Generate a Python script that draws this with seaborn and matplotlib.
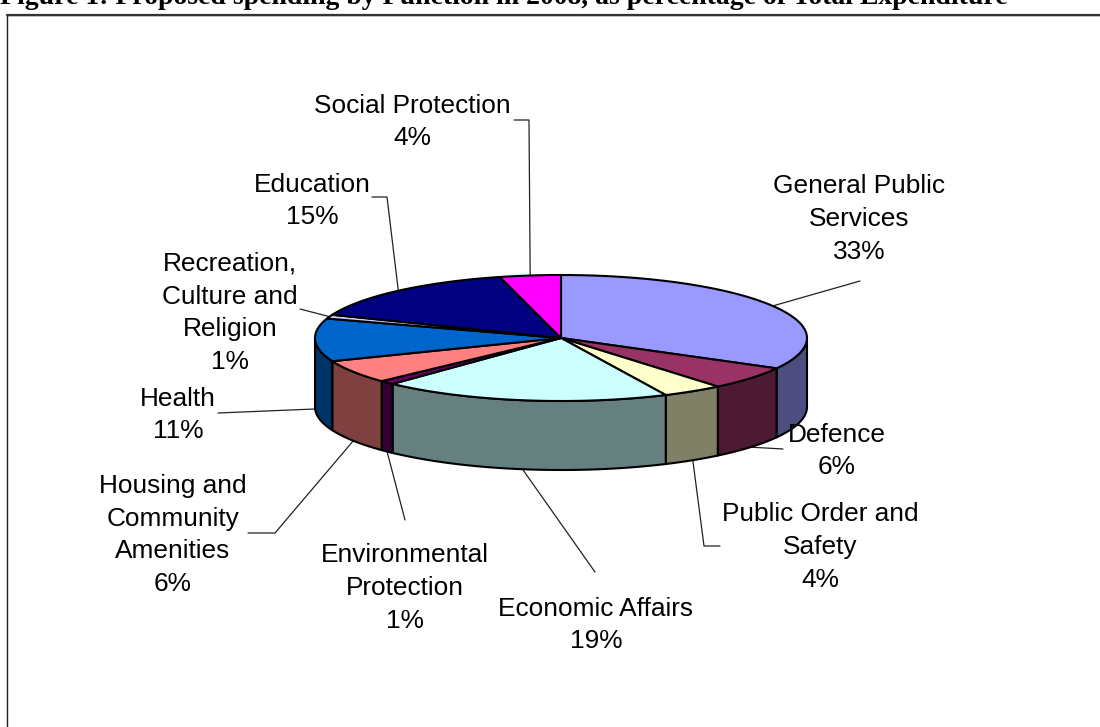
import numpy as np
import matplotlib
matplotlib.use("Agg")
import matplotlib.pyplot as plt
from matplotlib.patches import Polygon, Rectangle
import seaborn as sns

# Budget shares, clockwise from twelve o'clock
functions = ["General Public\nServices", "Defence", "Public Order and\nSafety",
             "Economic Affairs", "Environmental\nProtection",
             "Housing and\nCommunity\nAmenities", "Health",
             "Recreation,\nCulture and\nReligion", "Education", "Social Protection"]
shares = [33, 6, 4, 19, 1, 6, 11, 1, 15, 4]
top_colors = ["#9999FF", "#993366", "#FFFFCC", "#CCFFFF", "#660066",
              "#FF8080", "#0066CC", "#CCCCFF", "#000080", "#FF00FF"]

# Label centres and the elbow of each leader line, in canvas pixels
label_centers = [(859, 219), (837, 451), (820, 547), (596, 625), (405, 588),
                 (173, 535), (178, 415), (230, 313), (312, 201), (412, 122)]
leader_elbows = [[(860, 281)], [(783, 449)], [(704, 546), (720, 546)], [(595, 572)],
                 [(405, 520)], [(275, 533), (248, 533)], [(218, 413)], [(300, 309)],
                 [(387, 197), (372, 197)], [(529, 120), (514, 120)]]

# Pie geometry in canvas pixels
CX, CY, RX, RY, DEPTH = 561, 338, 246, 63, 69

sns.set_theme(style="white")
plt.rcParams["font.family"] = ["Liberation Sans", "DejaVu Sans"]
palette = sns.color_palette(top_colors)


def rim(theta_deg, drop=0.0):
    t = np.radians(np.asarray(theta_deg, dtype=float))
    return np.column_stack([CX + RX * np.sin(t), CY - RY * np.cos(t) + drop])


fig = plt.figure(figsize=(11, 7.27), dpi=100, facecolor="white")
ax = fig.add_axes([0, 0, 1, 1])
ax.set_xlim(0, 1100)
ax.set_ylim(727, 0)
ax.axis("off")

# Frame that runs off the right and bottom edges of the page
ax.add_patch(Rectangle((7, 15), 1200, 800, fill=False, edgecolor="#222222", lw=1.0))
ax.plot([7, 1100], [15, 15], color="#333333", lw=1.6, zorder=1)

ax.text(0, 4, "Figure 1: Proposed spending by Function in 2008, as percentage of Total Expenditure",
        family="Liberation Serif", weight="bold", fontsize=20, color="black",
        ha="left", va="baseline")

edges = np.cumsum([0] + shares) / sum(shares) * 360.0
EDGE = dict(edgecolor="black", linewidth=1.5, joinstyle="round")

# Only the front half of the wall (90 to 270 degrees) is visible
for i, color in enumerate(palette):
    lo, hi = max(edges[i], 90), min(edges[i + 1], 270)
    if lo >= hi:
        continue
    arc = np.linspace(lo, hi, 60)
    wall = np.vstack([rim(arc), rim(arc[::-1], DEPTH)])
    side = tuple(c * 0.5 for c in color)
    ax.add_patch(Polygon(wall, closed=True, facecolor=side, zorder=3, **EDGE))

# Top faces of the slices
for i, color in enumerate(palette):
    arc = np.linspace(edges[i], edges[i + 1], 80)
    face = np.vstack([[CX, CY], rim(arc)])
    ax.add_patch(Polygon(face, closed=True, facecolor=color, zorder=4, **EDGE))

# Leader lines start on the rim at each slice's middle angle, then labels go on top
for i, (name, value) in enumerate(zip(functions, shares)):
    mid = (edges[i] + edges[i + 1]) / 2
    drop = DEPTH if 90 < mid < 270 else 0
    start = rim([mid], drop)
    path = np.vstack([start, leader_elbows[i]])
    ax.plot(path[:, 0], path[:, 1], color="#222222", lw=0.9, zorder=2)
    x, y = label_centers[i]
    ax.text(x, y, f"{name}\n{value}%", ha="center", va="center", fontsize=18.9,
            linespacing=1.46, color="black", zorder=6)

fig.savefig("out.png", dpi=100)
